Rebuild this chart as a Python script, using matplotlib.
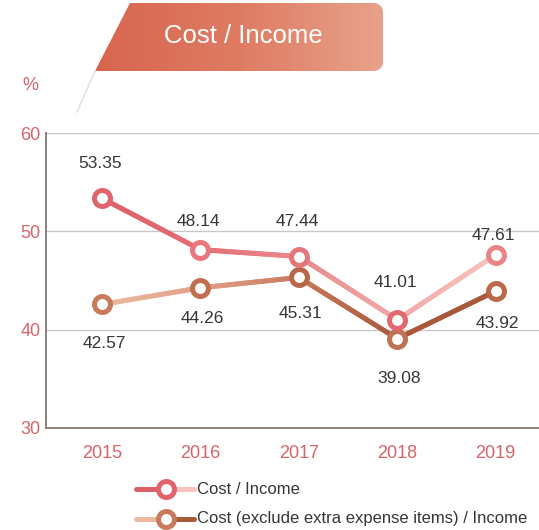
import numpy as np
import matplotlib.pyplot as plt
from matplotlib.collections import LineCollection
from matplotlib.colors import to_rgb, LinearSegmentedColormap
from matplotlib.patches import Polygon

plt.rcParams['font.family'] = ['Liberation Sans', 'DejaVu Sans']

years = ['2015', '2016', '2017', '2018', '2019']
cost_income = [53.35, 48.14, 47.44, 41.01, 47.61]
cost_income_excl = [42.57, 44.26, 45.31, 39.08, 43.92]
yticks = [30, 40, 50, 60]
series_names = ['Cost / Income', 'Cost (exclude extra expense items) / Income']

# colour stops along each line (one per year)
line1_cols = ['#df5f69', '#e46e76', '#e98a8c', '#f1aaa9', '#f6c3be']
line2_cols = ['#ecb9a2', '#e3a088', '#c8795c', '#a9583b', '#a85a3b']
mark1_cols = ['#e1636b', '#e8777e', '#e5767a', '#e4686f', '#ea8486']
mark2_cols = ['#c87a5a', '#c07050', '#b8664a', '#c07354', '#b86a4a']

tick_red = '#d9636a'
label_col = '#363636'

W, H = 539, 530
fig = plt.figure(figsize=(W / 100, H / 100), dpi=100)
ax = fig.add_axes([46 / W, 1 - 428 / H, 1 - 46 / W, (428 - 133) / H])

x = np.arange(len(years))


def gradient_line(ax, xs, ys, cols, lw, z):
    pts_x, pts_y, pts_c = [], [], []
    for i in range(len(xs) - 1):
        t = np.linspace(0, 1, 40)
        c0, c1 = np.array(to_rgb(cols[i])), np.array(to_rgb(cols[i + 1]))
        pts_x.extend(xs[i] + (xs[i + 1] - xs[i]) * t)
        pts_y.extend(ys[i] + (ys[i + 1] - ys[i]) * t)
        pts_c.extend([c0 + (c1 - c0) * tt for tt in t])
    pts = np.column_stack([pts_x, pts_y]).reshape(-1, 1, 2)
    segs = np.concatenate([pts[:-1], pts[1:]], axis=1)
    lc = LineCollection(segs, colors=pts_c[:-1], linewidths=lw,
                        capstyle='round', joinstyle='round', zorder=z)
    ax.add_collection(lc)


for yv in [40, 50, 60]:
    ax.axhline(yv, color='#c8c8c8', lw=1.0, zorder=1)

gradient_line(ax, x, cost_income_excl, line2_cols, 3.6, 3)
for xi, yi, c in zip(x, cost_income_excl, mark2_cols):
    ax.plot(xi, yi, 'o', ms=11.5, mfc='white', mec=c, mew=3.6, zorder=4)

gradient_line(ax, x, cost_income, line1_cols, 3.6, 5)
for xi, yi, c in zip(x, cost_income, mark1_cols):
    ax.plot(xi, yi, 'o', ms=11.5, mfc='white', mec=c, mew=3.6, zorder=6)

# value labels
up_off = [3.5, 2.9, 3.6, 3.8, 2.0]
for xi, yi, dy in zip(x, cost_income, up_off):
    ax.text(xi - 0.02, yi + dy, f'{yi:.2f}', ha='center', va='center',
            fontsize=12.5, color=label_col, zorder=7)
down_off = [4.0, 3.1, 3.7, 4.0, 3.3]
for xi, yi, dy in zip(x, cost_income_excl, down_off):
    ax.text(xi + 0.02, yi - dy, f'{yi:.2f}', ha='center', va='center',
            fontsize=12.5, color=label_col, zorder=7)

ax.set_xlim(-0.57, 4.44)
ax.set_ylim(30, 60)
ax.set_yticks(yticks)
ax.set_yticklabels([str(t) for t in yticks], color=tick_red, fontsize=13)
ax.set_xticks(x)
ax.set_xticklabels(years, color=tick_red, fontsize=13)
ax.tick_params(axis='x', length=0, pad=12)
ax.tick_params(axis='y', length=0, pad=4)
for s in ['top', 'right']:
    ax.spines[s].set_visible(False)
for s in ['left', 'bottom']:
    ax.spines[s].set_color('#8a817a')
    ax.spines[s].set_linewidth(1.4)

fig.text(30 / W, 1 - 86 / H, '%', color=tick_red, fontsize=13,
         ha='center', va='center')

# title banner: slanted left edge, rounded right corners, colour gradient
overlay = fig.add_axes([0, 0, 1, 1], zorder=-1)
overlay.set_xlim(0, W)
overlay.set_ylim(H, 0)
overlay.axis('off')

bl, tl, rx, top, bot, r = 95, 130, 383, 3, 71, 9
verts = [(bl, bot), (tl, top)]
for a in np.linspace(-np.pi / 2, 0, 8):
    verts.append((rx - r + r * np.cos(a), top + r + r * np.sin(a)))
for a in np.linspace(0, np.pi / 2, 8):
    verts.append((rx - r + r * np.cos(a), bot - r + r * np.sin(a)))
shape = Polygon(verts, closed=True, fc='none', ec='none')
overlay.add_patch(shape)

cmap = LinearSegmentedColormap.from_list('banner', ['#d7654e', '#df7b63', '#e8a28b'])
grad = np.linspace(0, 1, 256).reshape(1, -1)
im = overlay.imshow(grad, cmap=cmap, extent=[bl, rx, bot, top], aspect='auto')
im.set_clip_path(shape)
overlay.set_xlim(0, W)
overlay.set_ylim(H, 0)
overlay.plot([bl, 77], [bot, 112], color='#e6e2e2', lw=1.2)
overlay.text(243, 36, 'Cost / Income', color='white', fontsize=18.5,
             ha='center', va='center')

# legend drawn by hand below the chart
leg = fig.add_axes([0, 0, 1, 1], zorder=5)
leg.set_xlim(0, W)
leg.set_ylim(H, 0)
leg.axis('off')
for row, (name, lc_, mc) in enumerate(zip(series_names,
                                          [line1_cols, line2_cols],
                                          [mark1_cols[0], mark2_cols[0]])):
    yy = 489 + row * 30
    leg.plot([136, 166], [yy, yy], color=lc_[0], lw=3.6, solid_capstyle='round')
    leg.plot([166, 194], [yy, yy], color=lc_[-1], lw=3.6, solid_capstyle='round')
    leg.plot(166, yy, 'o', ms=11.5, mfc='white', mec=mc, mew=3.6)
    leg.text(197, yy, name, fontsize=12, color=label_col, va='center')

fig.savefig('out.png', dpi=100)
